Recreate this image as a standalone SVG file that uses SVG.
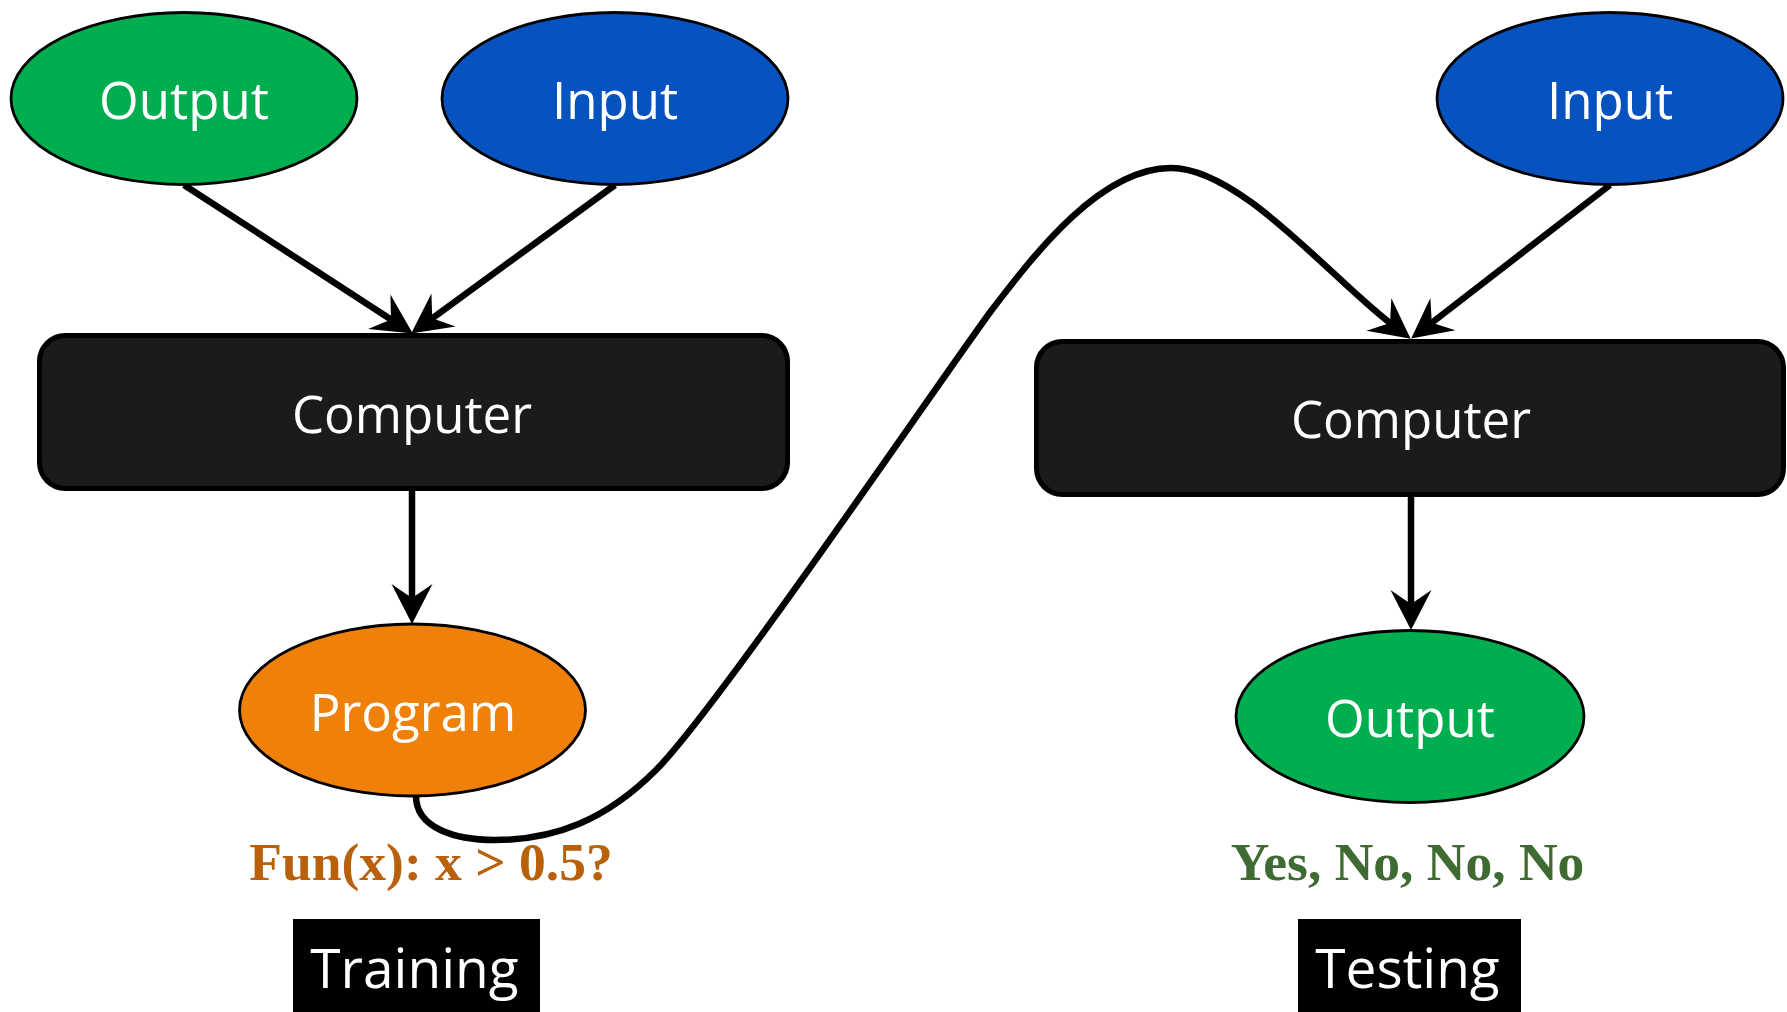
<svg xmlns="http://www.w3.org/2000/svg" width="1787" height="1012" viewBox="0 0 1787 1012">
  <defs>
    <!-- barbed "vee" arrowhead; refX sits on the inner notch where the line ends -->
    <marker id="vee" markerUnits="userSpaceOnUse" viewBox="0 -21 40 42" markerWidth="40" markerHeight="42" refX="14" refY="0" orient="auto" overflow="visible">
      <path d="M40,0 L0,-20.5 L14,0 L0,20.5 Z" fill="#000"/>
    </marker>
    <style>
      .edge { fill: none; stroke: #000; stroke-width: 6.5; marker-end: url(#vee); }
      .ell { stroke: #000; stroke-width: 2.8; }
      .green { fill: #00AE50; }
      .blue { fill: #0652BE; }
      .orange { fill: #EF800A; }
      .box { fill: #1B1B1B; stroke: #000; stroke-width: 5; }
      .lbl { font-family: "Open Sans", "Noto Sans", sans-serif; font-size: 51px; fill: #fff; text-anchor: middle; }
      .note { font-family: "Liberation Serif", serif; font-weight: bold; font-size: 53.5px; text-anchor: middle; }
      .tag { font-family: "Open Sans", "Noto Sans", sans-serif; font-size: 55px; fill: #fff; text-anchor: middle; }
    </style>
  </defs>

  <rect width="1787" height="1012" fill="#fff"/>

  <g id="connectors">
    <path class="edge" d="M184,185 L391,319.4"/>
    <path class="edge" d="M615,185 L432.2,318.3"/>
    <path class="edge" d="M412,491 L412,598"/>
    <path class="edge" d="M1610,185 L1431.8,322.7"/>
    <path class="edge" d="M1411,497 L1411,604"/>
    <path class="edge" d="M416,796 C416,828 455,840 495,840 C555,840 606,820 656,770 C716,710 941,379 991,311 C1036,252 1101,168 1171,168 C1240,168 1330,277 1390,323"/>
  </g>

  <g id="train-output">
    <ellipse class="ell green" cx="184" cy="98.5" rx="173" ry="86"/>
    <text class="lbl" x="184" y="119">Output</text>
  </g>
  <g id="train-input">
    <ellipse class="ell blue" cx="615" cy="98.5" rx="173" ry="86"/>
    <text class="lbl" x="615" y="119">Input</text>
  </g>
  <g id="train-computer">
    <rect class="box" x="39.5" y="335.5" width="748" height="153" rx="26"/>
    <text class="lbl" x="412" y="433">Computer</text>
  </g>
  <g id="program">
    <ellipse class="ell orange" cx="412.5" cy="710" rx="173" ry="86"/>
    <text class="lbl" x="413" y="731">Program</text>
  </g>
  <g id="program-rule">
    <text class="note" x="431" y="880" fill="#B9600B">Fun(x): x &gt; 0.5?</text>
  </g>
  <g id="training-tag">
    <rect x="293" y="919" width="247" height="93" fill="#000"/>
    <text class="tag" x="414.5" y="988">Training</text>
  </g>

  <g id="test-input">
    <ellipse class="ell blue" cx="1610" cy="98.5" rx="173" ry="86"/>
    <text class="lbl" x="1610" y="119">Input</text>
  </g>
  <g id="test-computer">
    <rect class="box" x="1036.5" y="341.5" width="747" height="153" rx="26"/>
    <text class="lbl" x="1411" y="438">Computer</text>
  </g>
  <g id="test-output">
    <ellipse class="ell green" cx="1410" cy="716.5" rx="174" ry="86"/>
    <text class="lbl" x="1410" y="737">Output</text>
  </g>
  <g id="test-result">
    <text class="note" x="1407.5" y="880" fill="#3F6A31">Yes, No, No, No</text>
  </g>
  <g id="testing-tag">
    <rect x="1298" y="919" width="223" height="93" fill="#000"/>
    <text class="tag" x="1407.5" y="988">Testing</text>
  </g>
</svg>
